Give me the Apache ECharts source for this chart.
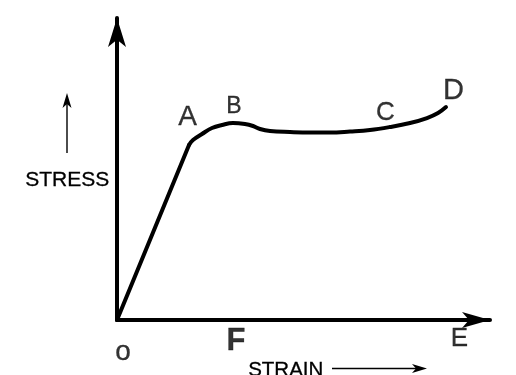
<!DOCTYPE html>
<html>
<head>
<meta charset="utf-8">
<script src="https://cdn.jsdelivr.net/npm/echarts@6/dist/echarts.min.js"></script>
<style>html,body{margin:0;padding:0;background:#fff}#c{width:516px;height:375px}</style>
</head>
<body>
<div id="c"></div>
<script>
// Elastic segment O -> A
var elasticX = [0, 20.06];
var elasticY = [0, 60.98];
// Curve A -> B -> C -> D
var curveX = [20.06, 21.17, 23.68, 26.46, 29.25, 32.31, 35.65, 37.88, 39.83, 42.62, 48.19, 53.76, 59.33, 64.90, 70.47, 76.04, 81.62, 86.35, 89.42, 91.64];
var curveY = [60.98, 62.72, 64.81, 66.90, 67.94, 68.64, 68.29, 67.60, 66.55, 65.85, 65.51, 65.33, 65.33, 65.68, 66.20, 67.25, 68.64, 70.38, 72.13, 74.22];
// Point labels
var labelNames = ['A', 'B', 'C', 'D', 'E', 'F', 'o'];
var labelX = [19.64, 32.59, 74.79, 93.73, 95.40, 33.15, 1.67];
var labelY = [70.56, 74.22, 72.30, 79.79, -6.40, -7.5, -11.2];
var labelSizes = [28, 23, 26, 29, 26, 31, 28];
var labelBold = [false, false, false, false, false, true, false];
var yTitle = 'STRESS';
var xTitle = 'STRAIN';

var FONT = '"Liberation Sans", Arial, sans-serif';
function zip(xs, ys) { return xs.map(function (v, i) { return [v, ys[i]]; }); }

var chart = echarts.init(document.getElementById('c'), null, { renderer: 'canvas' });
var option = {
  animation: false,
  backgroundColor: '#fff',
  grid: { left: 117, right: 26, top: 18, bottom: 55 },
  xAxis: {
    type: 'value', min: 0, max: 103.9,
    axisLine: { show: true, onZero: false, symbol: ['none', 'arrow'], symbolSize: [12, 28], lineStyle: { color: '#000', width: 4 } },
    axisTick: { show: false }, axisLabel: { show: false }, splitLine: { show: false }
  },
  yAxis: {
    type: 'value', min: 0, max: 105.23,
    axisLine: { show: true, onZero: false, symbol: ['none', 'arrow'], symbolSize: [13.5, 29], lineStyle: { color: '#000', width: 4 } },
    axisTick: { show: false }, axisLabel: { show: false }, splitLine: { show: false }
  },
  series: [
    {
      type: 'line', data: zip(elasticX, elasticY), symbol: 'none', smooth: false,
      lineStyle: { color: '#000', width: 4, cap: 'round', join: 'round' }, z: 3
    },
    {
      type: 'line', data: zip(curveX, curveY), symbol: 'none', smooth: 0.4,
      lineStyle: { color: '#000', width: 4, cap: 'round', join: 'round' }, z: 3
    },
    {
      type: 'scatter', clip: false, symbolSize: 0, z: 5,
      data: labelNames.map(function (n, i) {
        return {
          name: n, value: [labelX[i], labelY[i]],
          label: { fontSize: labelSizes[i], fontWeight: labelBold[i] ? 'bold' : 'normal' }
        };
      }),
      label: {
        show: true, position: 'inside', formatter: '{b}', color: '#000',
        textBorderColor: '#000', textBorderWidth: 0.3,
        fontFamily: FONT, align: 'center', verticalAlign: 'middle'
      }
    }
  ],
  graphic: [
    { type: 'text', left: 25, top: 170, style: { text: yTitle, font: '21px ' + FONT, fill: '#000', stroke: '#000', lineWidth: 0.3 } },
    { type: 'text', left: 248, top: 360, style: { text: xTitle, font: '20.5px ' + FONT, fill: '#000', stroke: '#000', lineWidth: 0.3 } },
    { type: 'line', shape: { x1: 67, y1: 153, x2: 67, y2: 102 }, style: { stroke: '#000', lineWidth: 1.4 } },
    { type: 'polygon', shape: { points: [[67, 93], [71.5, 108], [67, 104], [62.5, 108]] }, style: { fill: '#000' } },
    { type: 'line', shape: { x1: 332, y1: 368.5, x2: 418, y2: 368.5 }, style: { stroke: '#000', lineWidth: 1.4 } },
    { type: 'polygon', shape: { points: [[427, 368.5], [412, 373], [416, 368.5], [412, 364]] }, style: { fill: '#000' } }
  ]
};
chart.setOption(option);
</script>
</body>
</html>
